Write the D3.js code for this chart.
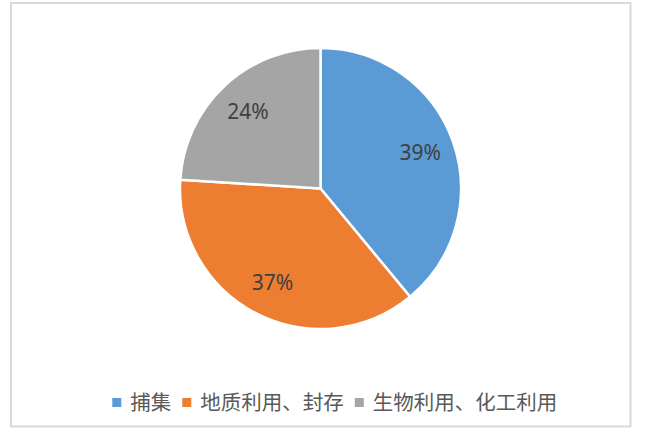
<!DOCTYPE html>
<html>
<head>
<meta charset="utf-8">
<script src="https://cdn.jsdelivr.net/npm/d3@7"></script>
<style>
  body { margin: 0; background: #fff; }
</style>
</head>
<body>
<div id="chart"></div>
<script>
// Chart data
const categories = ["捕集", "地质利用、封存", "生物利用、化工利用"];
const values = [39, 37, 24];
const colors = ["#5B9BD5", "#ED7D31", "#A5A5A5"];

const width = 646;
const height = 436;
const cx = 320.5, cy = 188.5;
const radius = 140.5;

const svg = d3.select("#chart")
  .append("svg")
  .attr("width", width)
  .attr("height", height);

// Chart border
svg.append("rect")
  .attr("x", 11)
  .attr("y", 3)
  .attr("width", 619.5)
  .attr("height", 423.5)
  .attr("fill", "#fff")
  .attr("stroke", "#d9d9d9")
  .attr("stroke-width", 2);

const pie = d3.pie().sort(null).value(d => d);
const arcs = pie(values);

const arc = d3.arc().innerRadius(0).outerRadius(radius);
const labelArc = d3.arc().innerRadius(106).outerRadius(106);

const g = svg.append("g")
  .attr("transform", `translate(${cx},${cy})`);

g.selectAll("path")
  .data(arcs)
  .enter()
  .append("path")
  .attr("d", arc)
  .attr("fill", (d, i) => colors[i])
  .attr("stroke", "#fff")
  .attr("stroke-width", 2.5)
  .attr("stroke-linejoin", "round");

// Percent labels
g.selectAll(".label")
  .data(arcs)
  .enter()
  .append("text")
  .attr("class", "label")
  .attr("transform", d => `translate(${labelArc.centroid(d)})`)
  .attr("text-anchor", "middle")
  .attr("dy", "0.35em")
  .style("font-family", "'Noto Sans', sans-serif")
  .style("font-size", "21px")
  .style("fill", "#404040")
  .text(d => d.data + "%");

// Legend
const legend = svg.append("g").attr("class", "legend");
let lx = 112.3;
const ly = 402.5;
categories.forEach((c, i) => {
  legend.append("rect")
    .attr("x", lx)
    .attr("y", ly - 4.5)
    .attr("width", 9)
    .attr("height", 9)
    .attr("fill", colors[i]);
  lx += 9 + 9;
  const t = legend.append("text")
    .attr("x", lx)
    .attr("y", ly)
    .attr("dy", "0.35em")
    .style("font-family", "'Noto Sans CJK SC', sans-serif")
    .style("font-size", "20.5px")
    .style("fill", "#595959")
    .text(c);
  lx += t.node().getComputedTextLength() + 11;
});
</script>
</body>
</html>
